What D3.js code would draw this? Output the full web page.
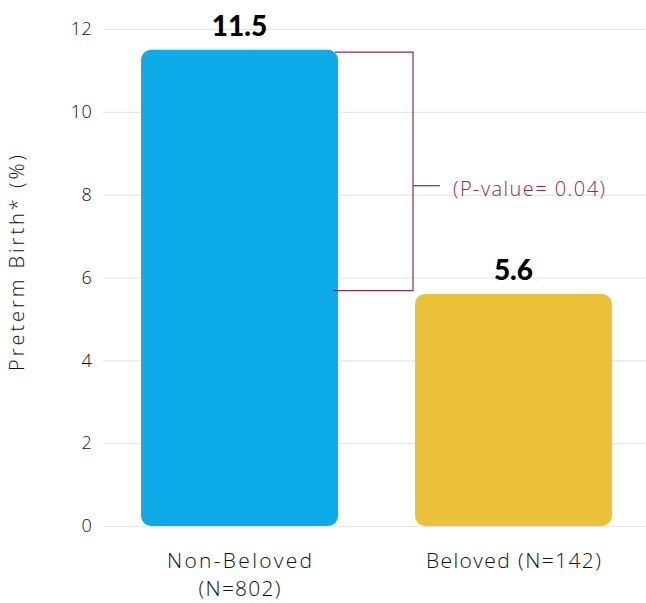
<!DOCTYPE html>
<html>
<head>
<meta charset="utf-8">
<script src="https://cdn.jsdelivr.net/npm/d3@7"></script>
<style>
  html, body { margin: 0; padding: 0; background: #ffffff; }
  svg { display: block; font-family: "Open Sans", Lato, sans-serif; }
</style>
</head>
<body>
<svg id="chart" width="646" height="603"></svg>
<script>
// Preterm birth rates by group
const categories = ["Non-Beloved (N=802)", "Beloved (N=142)"];
const categoryLines = [["Non-Beloved", "(N=802)"], ["Beloved (N=142)"]];
const values = [11.5, 5.6];
const barColors = ["#0EABE9", "#EAC139"];
const yTicks = [0, 2, 4, 6, 8, 10, 12];
const pValueLabel = "(P-value= 0.04)";

const svg = d3.select("#chart");
const W = 646, H = 603;
const plotLeft = 103, plotTop = 29, plotBottom = 526;
const textColor = "#111";

// Helper: stretch a text element to a given rendered width
function fitWidth(sel, w) {
  sel.attr("textLength", w).attr("lengthAdjust", "spacing");
}

const x = d3.scaleBand()
  .domain(categories)
  .range([plotLeft, 650])
  .paddingInner(0.281)
  .paddingOuter(0.139);

const y = d3.scaleLinear().domain([0, 12]).range([plotBottom, plotTop]);

// Gridlines and tick labels
const yAxis = d3.axisLeft(y)
  .tickValues(yTicks)
  .tickSize(-(W - plotLeft))
  .tickPadding(11)
  .tickFormat(d3.format("d"));

const gy = svg.append("g")
  .attr("transform", `translate(${plotLeft},0)`)
  .call(yAxis);
gy.select(".domain").remove();
gy.selectAll(".tick line").attr("stroke", "#e6e6e6").attr("stroke-width", 1.2);
gy.selectAll(".tick text")
  .attr("fill", textColor)
  .attr("font-size", 18)
  .attr("font-weight", 300)
  .attr("font-family", "'Open Sans', sans-serif")
  .attr("letter-spacing", 0.3);

// Axis title
fitWidth(svg.append("text")
  .attr("transform", `translate(24,${263}) rotate(-90)`)
  .attr("text-anchor", "middle")
  .attr("font-size", 20)
  .attr("font-weight", 300)
  .attr("fill", textColor)
  .text("Preterm Birth* (%)"), 216);

// Bars
const r = 10;
svg.append("g").selectAll("rect")
  .data(values)
  .join("rect")
  .attr("x", (d, i) => x(categories[i]))
  .attr("y", d => y(d))
  .attr("width", x.bandwidth())
  .attr("height", d => y(0) - y(d))
  .attr("rx", r)
  .attr("ry", r)
  .attr("fill", (d, i) => barColors[i]);

// Value labels
svg.append("g").selectAll("text")
  .data(values)
  .join("text")
  .attr("x", (d, i) => x(categories[i]) + x.bandwidth() / 2)
  .attr("y", d => y(d) - 14)
  .attr("text-anchor", "middle")
  .attr("font-size", 28)
  .attr("font-weight", 900)
  .attr("font-family", "Lato, sans-serif")
  .attr("fill", "#000")
  .text(d => d.toFixed(1));

// Category labels
const labelWidths = [[145, 82], [175]];
const gx = svg.append("g");
categoryLines.forEach((lines, i) => {
  const cx = x(categories[i]) + x.bandwidth() / 2;
  lines.forEach((ln, j) => {
    fitWidth(gx.append("text")
      .attr("x", cx)
      .attr("y", 568 + j * 28)
      .attr("text-anchor", "middle")
      .attr("font-size", 21)
      .attr("font-weight", 300)
      .attr("fill", textColor)
      .text(ln), labelWidths[i][j]);
  });
});

// Significance bracket between the two bars
const bracketColor = "#8E2A56";
const bx = 413;
const yTop = y(values[0]) + 2.5;
const yBot = y(values[1]) - 3.5;
const yMid = yTop + 0.56 * (yBot - yTop);
const bx0 = x(categories[0]) + x.bandwidth() - 3;
svg.append("path")
  .attr("d", `M${bx0},${yTop} H${bx} V${yBot} H${bx0 - 2}`)
  .attr("fill", "none")
  .attr("stroke", bracketColor)
  .attr("stroke-width", 1.2);
svg.append("line")
  .attr("x1", bx).attr("x2", 440)
  .attr("y1", yMid).attr("y2", yMid)
  .attr("stroke", bracketColor)
  .attr("stroke-width", 1.2);
fitWidth(svg.append("text")
  .attr("x", 453)
  .attr("y", yMid + 10)
  .attr("font-size", 20)
  .attr("font-weight", 300)
  .attr("fill", bracketColor)
  .text(pValueLabel), 152);
</script>
</body>
</html>
